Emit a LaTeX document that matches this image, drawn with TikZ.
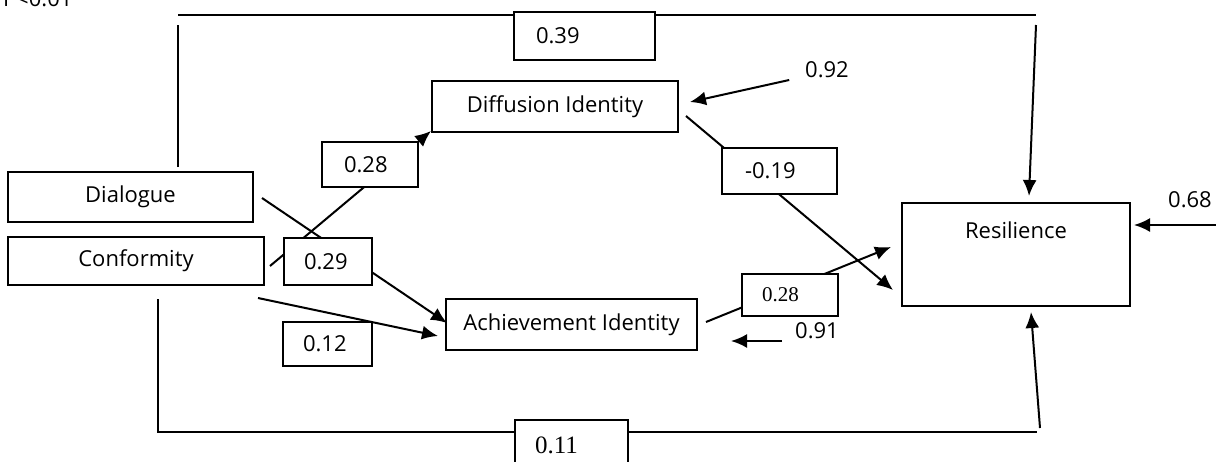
\documentclass[tikz,border=0pt]{standalone}
\usepackage{fontspec}
\setmainfont{Open Sans}
\newfontfamily\timesfont{Liberation Serif}
\usetikzlibrary{arrows.meta}

\begin{document}
\begin{tikzpicture}[x=1pt,y=-1pt,>={Latex[length=16pt,width=14pt]},line width=2pt,
  every node/.style={font=\fontsize{22}{26}\selectfont,inner sep=0pt},
  varbox/.style={draw},
  wtbox/.style={draw,fill=white,align=left}]
  \useasboundingbox (0,0) rectangle (1216,461);
  \clip (0,0) rectangle (1216,461);

  \node[anchor=base west] (sig) at (2,6) {P<0.01};

  % variables
  \node[varbox,minimum width=245pt,minimum height=50pt] (dlg) at (130.5,197) {Dialogue};
  \node[varbox,minimum width=256pt,minimum height=48pt] (conf) at (136,261) {Conformity};
  \node[varbox,minimum width=246pt,minimum height=51pt] (diff) at (555,106.5) {Diffusion Identity};
  \node[varbox,minimum width=251pt,minimum height=51pt] (ach) at (571.5,324.5) {Achievement Identity};
  \node[varbox,minimum width=228pt,minimum height=103pt] (res) at (1016,254.5) {};
  \node (reslbl) at ([yshift=-28pt]res.north) {Resilience};

  % paths over the top and the bottom
  \coordinate (tl) at (178,15);
  \coordinate (tr) at (1036,15);
  \draw ([xshift=47.5pt,yshift=4pt]dlg.north) -- ([yshift=-10pt]tl);
  \draw (tl) -- (tr);
  \draw[->] ([yshift=-10pt]tr) -- ([xshift=13pt,yshift=6pt]res.north);
  \coordinate (bl) at (158,432);
  \coordinate (br) at (1037,432);
  \draw ([xshift=22pt,yshift=-13pt]conf.south) -- (bl) -- (br);
  \draw[->] ([xshift=3pt,yshift=4pt]br) -- ([xshift=15pt,yshift=-5pt]res.south);

  % direct paths
  \draw[->] ([xshift=8pt,yshift=-1pt]dlg.east) -- ([xshift=2pt,yshift=1.5pt]ach.west);
  \draw[->] ([xshift=5pt,yshift=-5pt]conf.east) -- ([yshift=2pt]diff.south west);
  \draw[->] ([xshift=-7pt,yshift=-12pt]conf.south east) -- ([xshift=-7pt,yshift=-11.5pt]ach.west);
  \draw[->] ([xshift=7pt,yshift=-9.5pt]diff.east) -- ([xshift=-8pt,yshift=17pt]res.south west);
  \draw[->] ([xshift=8pt,yshift=2.5pt]ach.east) -- ([xshift=-10pt,yshift=7.5pt]res.west);

  % error terms
  \node (n92) at (827,70) {0.92};
  \draw[->] ([xshift=-15pt,yshift=-10pt]n92.west) -- ([xshift=11pt,yshift=4.5pt]diff.east);
  \node (n91) at (817,331) {0.91};
  \coordinate (e91) at (731,341);
  \draw[->] ([xshift=-12pt,yshift=-10pt]n91.west) -- (e91);
  \node (n68) at (1190,200) {0.68};
  \coordinate (e68) at (1216,225);
  \draw[->] (e68) -- ([xshift=3pt,yshift=29.5pt]res.east);

  % coefficients
  \node[wtbox,minimum height=48pt,inner xsep=22pt,text width=97pt] (w39) at (584.5,36) {0.39};
  \node[wtbox,minimum height=45pt,inner xsep=22pt,text width=52pt] (w28a) at (370,164.5) {0.28};
  \node[wtbox,minimum height=47pt,inner xsep=20pt,text width=48pt] (w29) at (328,261.5) {0.29};
  \node[wtbox,minimum height=44pt,inner xsep=20pt,text width=49pt] (w12) at (327.5,344) {0.12};
  \node[wtbox,minimum height=46pt,inner xsep=23pt,text width=69pt] (w19) at (779.5,171) {-0.19};
  \node[wtbox,minimum height=42pt,inner xsep=20pt,text width=56pt,font=\timesfont\fontsize{21}{26}\selectfont] (w28b) at (790,295) {0.28};
  \node[wtbox,minimum height=50pt,inner xsep=20pt,text width=73pt,font=\timesfont\fontsize{25}{28}\selectfont] (w11) at (571.5,445) {0.11};
\end{tikzpicture}
\end{document}
